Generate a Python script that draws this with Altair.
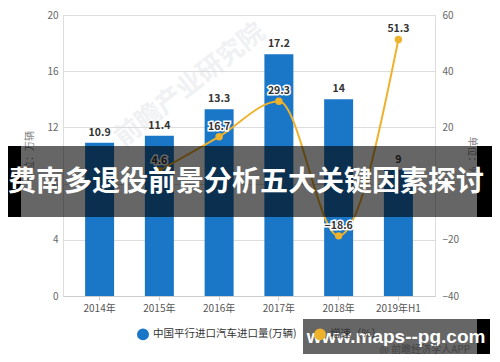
import altair as alt
import pandas as pd

years = ["2014年", "2015年", "2016年", "2017年", "2018年", "2019年H1"]
imports = [10.9, 11.4, 13.3, 17.2, 14, 9]
growth_years = ["2015年", "2016年", "2017年", "2018年", "2019年H1"]
growth = [4.6, 16.7, 29.3, -18.6, 51.3]
bar_label = "中国平行进口汽车进口量(万辆)"
line_label = "增速（%）"
banner_text = ["费南多退役前景分析五大关键因素探讨"]
site_text = ["www.maps--pg.com"]
source_text = ["@ 前瞻经济学人APP"]
watermark_text = ["前瞻产业研究院"]

BLUE = "#1a76c6"
GOLD = "#efb22c"
FONT = "Noto Sans CJK SC"

bars_df = pd.DataFrame({"year": years, "value": imports, "series": bar_label})
line_df = pd.DataFrame({"year": growth_years, "value": growth, "series": line_label})

x_enc = alt.X("year:N", sort=years,
              scale=alt.Scale(paddingInner=0.515, paddingOuter=0.37),
              axis=alt.Axis(title=None, labelAngle=0, labelColor="#555", labelFontSize=10,
                            labelFont=FONT, domainColor="#ccc", tickColor="#ccc", tickSize=4,
                            labelPadding=3))
color_enc = alt.Color("series:N",
                      scale=alt.Scale(domain=[bar_label, line_label], range=[BLUE, GOLD]),
                      legend=alt.Legend(title=None, orient="none", direction="horizontal",
                                        legendX=74, legendY=313, symbolType="circle",
                                        symbolSize=110, labelFontSize=10.5, labelFont=FONT,
                                        labelColor="#333", columnPadding=14, symbolOpacity=1))

y_left = alt.Y("value:Q", scale=alt.Scale(domain=[0, 20], nice=False),
               axis=alt.Axis(orient="left", values=[0, 4, 8, 12, 16, 20], title="单位：万辆",
                             titleFontSize=10, titleFont=FONT, titleColor="#888", titleFontWeight="normal",
                             titlePadding=12, labelColor="#666", labelFontSize=10, domain=False,
                             ticks=False, labelPadding=5, gridColor="#ddd"))
y_right = alt.Y("value:Q", scale=alt.Scale(domain=[-40, 60], nice=False),
                axis=alt.Axis(orient="right", values=[-40, -20, 0, 20, 40, 60], title="单位：%",
                              titleFontSize=10, titleFont=FONT, titleColor="#888", titleFontWeight="normal",
                              titlePadding=8, labelColor="#666", labelFontSize=10, domain=False,
                              ticks=False, labelPadding=7, grid=False))

bars = alt.Chart(bars_df).mark_bar().encode(x=x_enc, y=y_left, color=color_enc)
bar_text = alt.Chart(bars_df).mark_text(baseline="bottom", dy=-5, fontSize=10.5, fontWeight="bold",
                                        color="#333", font=FONT).encode(
    x=alt.X("year:N", sort=years), y=alt.Y("value:Q"), text=alt.Text("value:Q"))
left_layer = alt.layer(bars, bar_text)

line = alt.Chart(line_df).mark_line(interpolate="monotone", strokeWidth=2).encode(
    x=alt.X("year:N", sort=years), y=y_right, color=color_enc)
points = alt.Chart(line_df).mark_circle(size=55, opacity=1, color=GOLD).encode(
    x=alt.X("year:N", sort=years), y=alt.Y("value:Q"))
halo = alt.Chart(line_df).mark_text(baseline="bottom", dy=-5, fontSize=10.5, fontWeight="bold",
                                    stroke="white", strokeWidth=3, color="white", font=FONT).encode(
    x=alt.X("year:N", sort=years), y=alt.Y("value:Q"), text=alt.Text("value:Q"))
line_text = alt.Chart(line_df).mark_text(baseline="bottom", dy=-5, fontSize=10.5, fontWeight="bold",
                                         color="#333", font=FONT).encode(
    x=alt.X("year:N", sort=years), y=alt.Y("value:Q"), text=alt.Text("value:Q"))
right_layer = alt.layer(line, points, halo, line_text)

wm = alt.Chart(pd.DataFrame({"t": watermark_text})).mark_text(
    angle=322, fontSize=26, fontWeight="bold", color="#d5d9df", opacity=0.35, font=FONT).encode(
    text="t:N", x=alt.value(127), y=alt.value(70))

banner_df = pd.DataFrame({"t": banner_text})
banner_rect = alt.Chart(banner_df).mark_rect(color="black", opacity=0.6).encode(
    x=alt.value(-55), x2=alt.value(430), y=alt.value(131), y2=alt.value(202))
banner_l = alt.Chart(banner_df).mark_rect(color="black").encode(
    x=alt.value(-55), x2=alt.value(-42), y=alt.value(131), y2=alt.value(202))
banner_r = alt.Chart(banner_df).mark_rect(color="black").encode(
    x=alt.value(414), x2=alt.value(430), y=alt.value(131), y2=alt.value(202))
banner_t = alt.Chart(banner_df).mark_text(fontSize=28, fontWeight="bold", color="white",
                                          font=FONT, align="center", baseline="middle").encode(
    text="t:N", x=alt.value(183), y=alt.value(168))

site_df = pd.DataFrame({"t": site_text})
site_rect = alt.Chart(site_df).mark_rect(color="black", opacity=0.6).encode(
    x=alt.value(240), x2=alt.value(427), y=alt.value(304), y2=alt.value(341))
site_black = alt.Chart(site_df).mark_rect(color="black").encode(
    x=alt.value(414), x2=alt.value(427), y=alt.value(304), y2=alt.value(341))
site_t = alt.Chart(site_df).mark_text(fontSize=19, fontWeight="bold", color="white",
                                      font="Liberation Sans", align="center", baseline="middle").encode(
    text="t:N", x=alt.value(333), y=alt.value(322))
src_t = alt.Chart(pd.DataFrame({"t": source_text})).mark_text(
    fontSize=10, color="#444", font=FONT, align="right", baseline="middle").encode(
    text="t:N", x=alt.value(407), y=alt.value(335))

chart = alt.layer(
    wm, left_layer, right_layer,
    banner_rect, banner_l, banner_r, banner_t,
    site_rect, site_black, site_t, src_t
).resolve_scale(y="independent").properties(
    width=372, height=281,
    autosize=alt.AutoSizeParams(type="none"),
    padding={"left": 55, "top": 7, "right": 57, "bottom": 58},
).configure_view(stroke=None).configure(font=FONT)

chart.save("out.html", embed_options={"renderer": "svg", "actions": False})
